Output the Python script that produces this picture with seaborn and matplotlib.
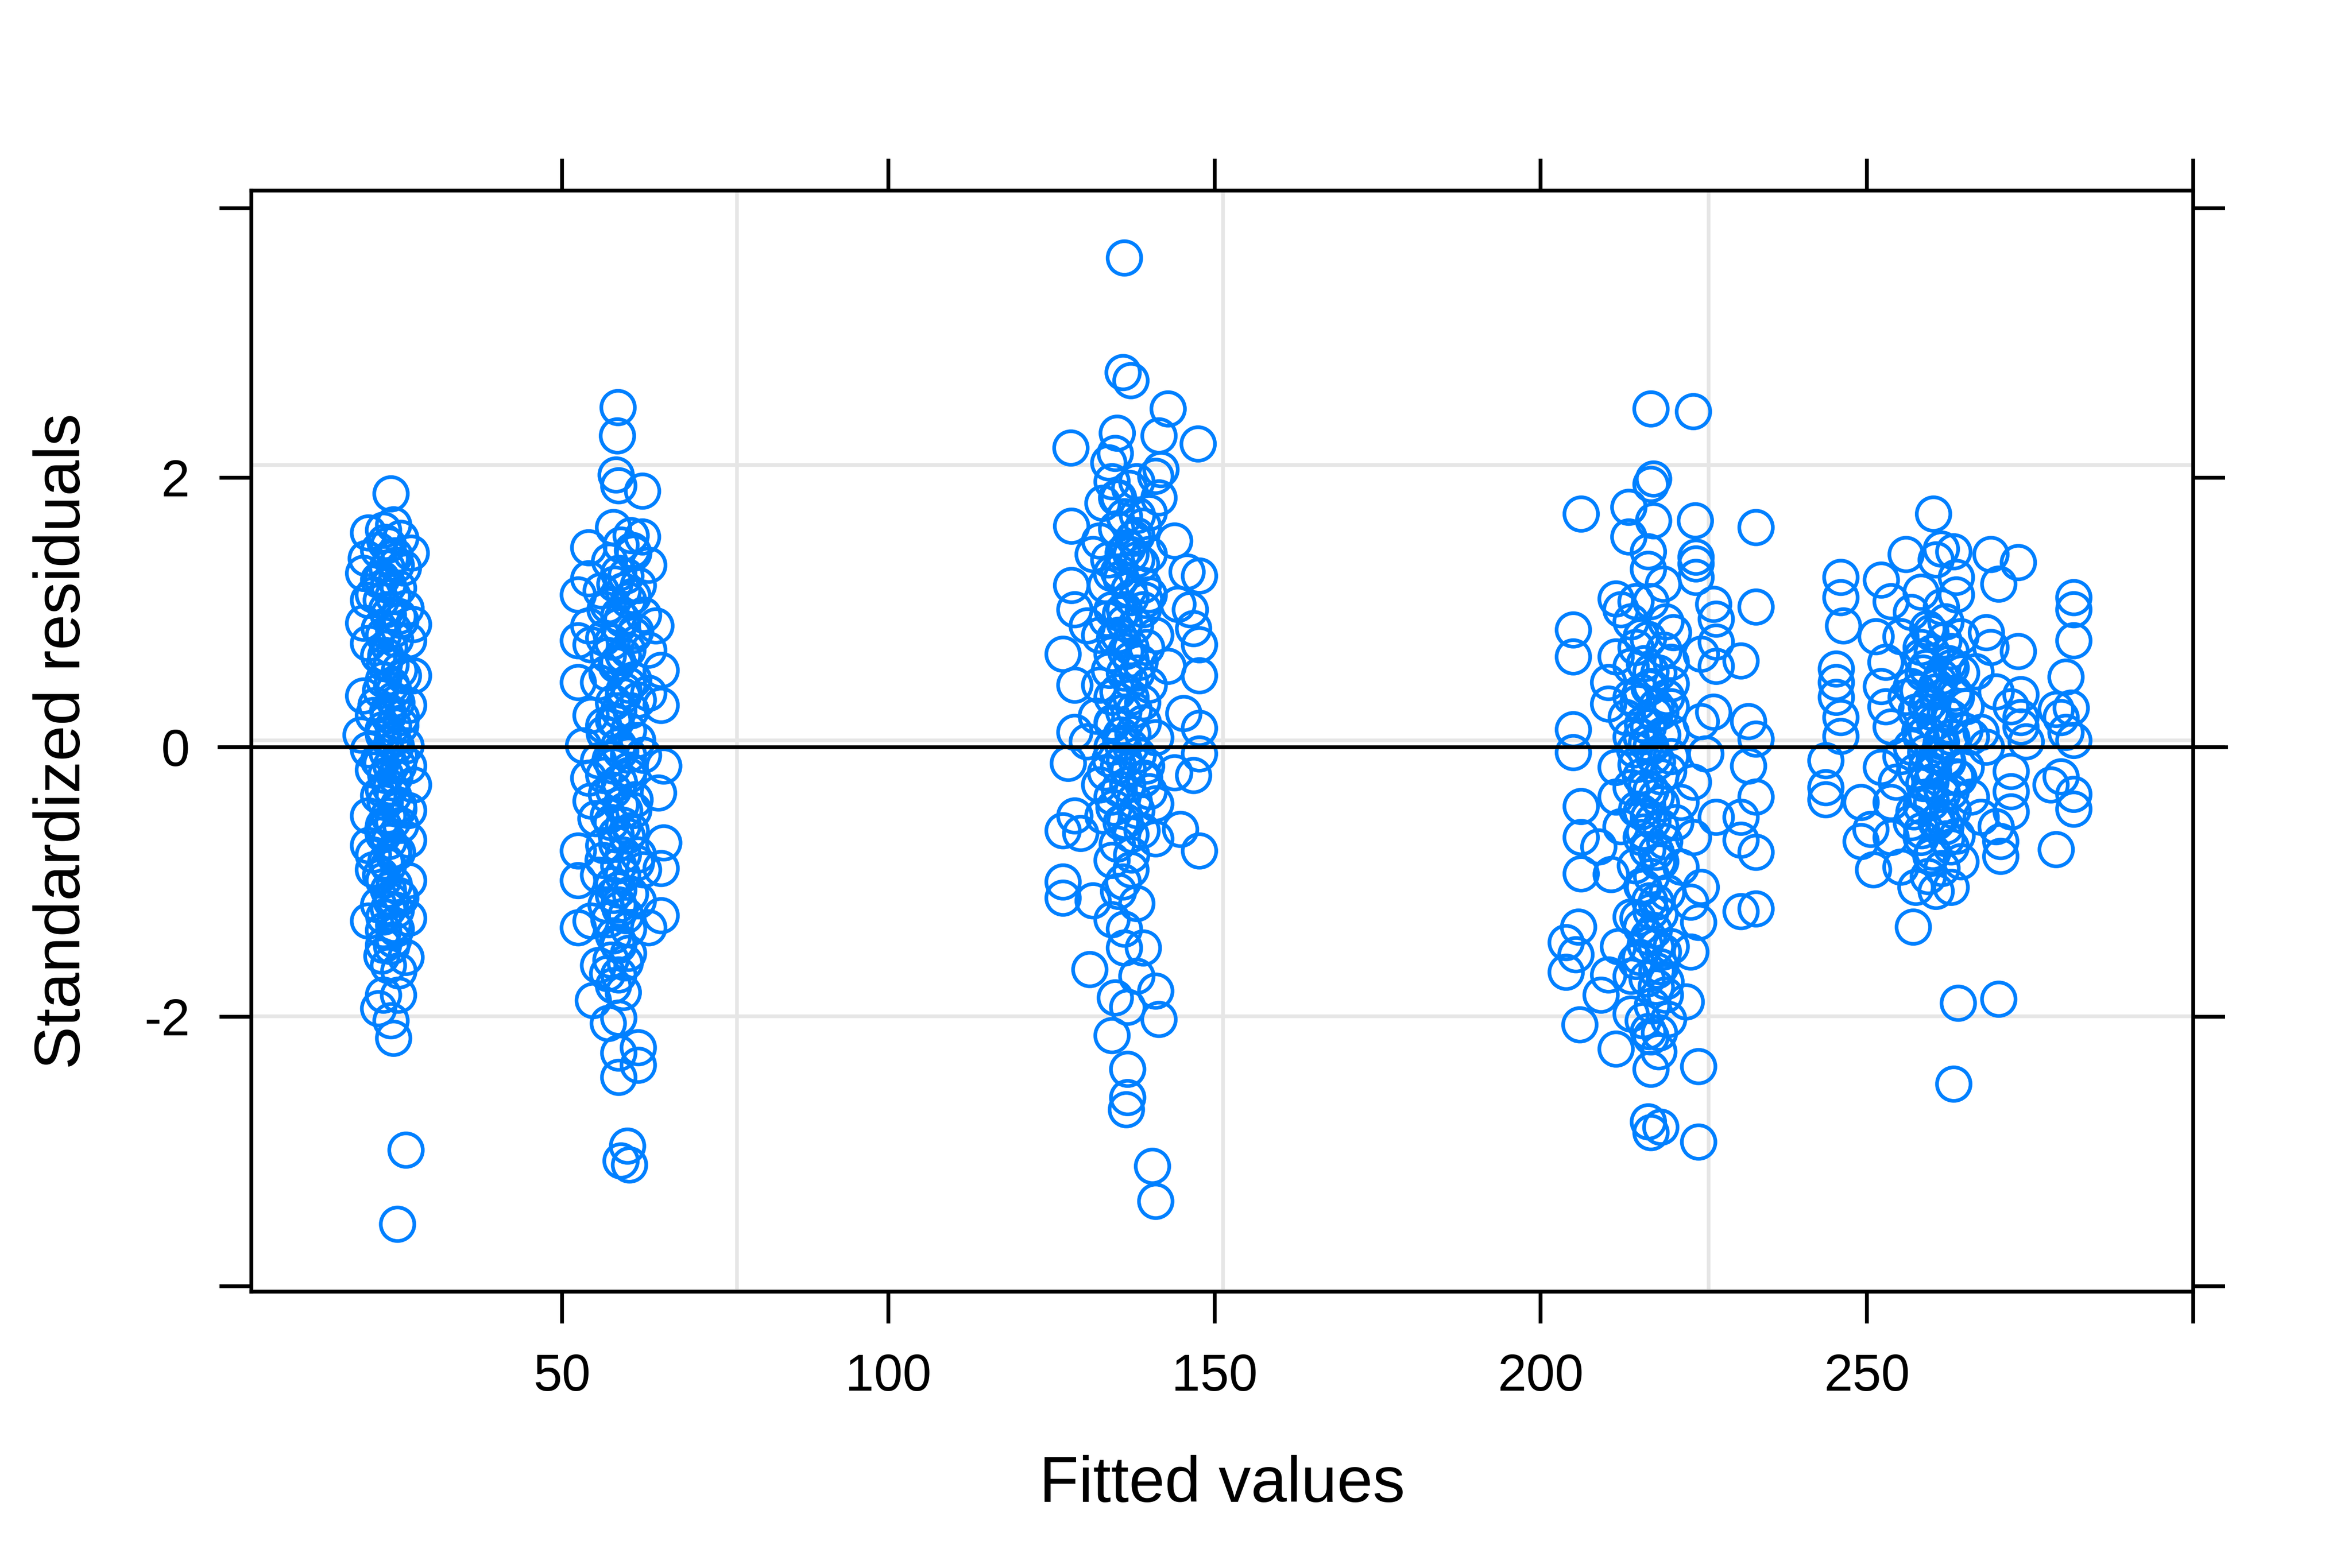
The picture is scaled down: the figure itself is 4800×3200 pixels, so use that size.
import numpy as np
import pandas as pd
import matplotlib
matplotlib.use("Agg")
import matplotlib.pyplot as plt
import seaborn as sns

# Fitted values / standardized residuals, one group per fitted cluster
fitted_g1 = [23.8, 22.65, 24.2, 20.35, 25.3, 23.4, 26.9, 20.0, 25.7, 19.6, 21.9, 24.95, 20.35, 26.1,
             19.6, 27.25, 22.65, 20.35, 26.5, 21.9, 25.7, 27.25, 19.6, 24.2, 26.5, 21.1, 19.2, 24.2,
             20.35, 26.1, 21.9, 26.5, 21.1, 27.25, 22.65, 24.95, 20.35, 26.5, 22.65, 20.35, 26.5, 24.2,
             21.1, 26.5, 23.4, 21.9, 20.35, 26.5, 24.2, 22.65, 26.1, 23.4, 22.65, 24.95, 21.9, 23.8,
             24.2, 26.1, 24.8,
             23.4, 24.2, 23.0, 23.8, 22.65, 24.2, 23.4, 22.65, 24.6, 23.8, 23.0, 24.2, 23.4, 22.65,
             24.2, 23.4, 22.65, 23.8, 24.6, 22.65, 24.2, 23.4, 22.3, 24.6, 21.9, 23.8, 21.1, 25.3,
             21.5, 25.3, 24.95, 21.9, 25.3, 21.1, 24.95]
resid_g1 = [1.88, 1.61, 1.65, 1.59, 1.55, 1.50, 1.44, 1.40, 1.33, 1.29, 1.24, 1.18, 1.09, 1.03,
            0.92, 0.91, 0.83, 0.77, 0.79, 0.68, 0.53, 0.53, 0.38, 0.42, 0.31, 0.235, 0.09, 0.16,
            -0.02, 0.01, -0.10, -0.14, -0.17, -0.28, -0.32, -0.43, -0.51, -0.47, -0.58, -0.73, -0.69, -0.80,
            -0.91, -0.99, -1.06, -1.17, -1.29, -1.27, -1.32, -1.47, -1.56, -1.62, -1.84, -1.84, -1.94, -2.03,
            -2.16, -2.99, -3.54,
            0.98, 0.87, 0.68, 0.61, 0.50, 0.35, 0.235, 0.09, 0.01, -0.14, -0.21, -0.36, -0.51, -0.65,
            -0.77, -0.88, -0.99, -1.14, -1.21, -1.36, -1.43, 1.20, 1.09, 1.35, 1.46, 1.40, 1.13, 0.94,
            0.31, 0.16, -0.14, -0.36, -0.58, -0.80, -1.10]
# overlapping points inside the solid-looking core of the first column
fitted_g1_core = [22.4, 24.1, 23.1, 25.0, 22.0, 24.5, 23.6, 22.8, 25.1, 23.9, 22.2, 24.7, 23.3, 25.4,
                  22.6, 24.0, 23.2, 25.2, 22.3, 24.4, 23.7, 22.9, 25.0, 24.1, 22.5, 23.5, 24.8, 23.0,
                  22.2, 24.3, 25.3, 23.4, 22.7, 24.6, 23.9, 22.4, 25.0, 23.2, 24.4, 22.9]
resid_g1_core = [1.25, 1.12, 1.02, 0.97, 0.88, 0.80, 0.74, 0.62, 0.57, 0.46, 0.42, 0.33, 0.27, 0.22,
                 0.13, 0.05, -0.04, -0.07, -0.12, -0.22, -0.30, -0.41, -0.46, -0.55, -0.62, -0.70, -0.78, -0.85,
                 -0.95, -1.02, -1.12, -1.20, -1.26, -1.35, -1.48, -1.55, -1.66, 1.33, 1.42, 1.52]

fitted_g2 = [58.6, 58.5, 58.3, 58.7, 62.35, 57.9, 60.6, 62.35, 54.1, 59.05, 61.0, 63.3, 54.1, 58.7,
             61.7, 56.0, 52.5, 60.2, 57.1, 62.5, 54.1, 58.7, 64.4, 52.5, 56.4, 61.0, 63.3, 54.45,
             59.4, 65.2, 52.5, 55.6, 60.2, 63.3, 65.2, 54.45, 58.7, 61.7, 56.4, 60.2, 53.3, 58.7,
             55.6, 62.5, 65.6, 54.1, 60.2, 64.8, 57.9, 54.45, 61.0, 55.2, 59.4, 65.6, 52.5, 56.4,
             61.7, 52.5, 55.6, 58.7, 62.5, 65.2, 58.7, 61.7, 54.45, 65.2, 52.5, 63.3, 57.9, 60.2,
             55.6, 58.7, 57.9, 54.8, 59.4, 58.7, 57.1, 61.7, 58.7, 61.7, 58.7, 60.05, 59.05, 60.35,
             58.7, 58.3, 59.4, 57.9, 59.05, 58.3, 59.4, 57.9, 58.7, 57.1, 60.2, 57.9, 59.4, 57.1,
             56.4, 60.6, 56.75, 59.8, 58.7, 57.5]
resid_g2 = [2.52, 2.31, 2.02, 1.94, 1.90, 1.63, 1.57, 1.56, 1.48, 1.50, 1.44, 1.35, 1.25, 1.29,
            1.20, 1.16, 1.13, 1.09, 1.05, 0.98, 0.90, 0.90, 0.90, 0.79, 0.81, 0.83, 0.72, 0.76,
            0.68, 0.57, 0.48, 0.48, 0.46, 0.40, 0.31, 0.235, 0.27, 0.35, 0.16, 0.124, 0.01, 0.01,
            -0.10, -0.06, -0.14, -0.23, -0.21, -0.34, -0.32, -0.40, -0.47, -0.53, -0.58, -0.71, -0.77, -0.73,
            -0.80, -0.99, -0.95, -0.88, -0.91, -0.90, -1.06, -1.14, -1.29, -1.25, -1.34, -1.34, -1.40, -1.53,
            -1.62, -1.69, -1.77, -1.88, -1.82, -2.01, -2.05, -2.23, -2.27, -2.36, -2.45, -2.96, -3.07, -3.10,
            0.98, 0.61, 0.38, -0.14, -0.43, -0.65, -0.80, -1.10, -1.17, -0.51, -0.06, 0.20, 1.16, 0.68,
            -0.21, -0.62, -1.17, -1.25, -1.47, -1.58]
fitted_g2_core = [57.3, 59.8, 58.1, 60.9, 56.6, 59.2, 61.3, 57.7, 60.1, 58.6, 56.9, 61.0, 59.5, 57.9,
                  60.6, 58.3, 56.5, 61.6, 59.0, 57.4, 60.3, 58.8, 56.8, 61.2, 59.6, 57.6, 60.0, 58.4,
                  56.3, 61.4, 59.3, 57.8, 60.5, 58.9, 57.2, 60.2, 58.5, 59.7, 57.0, 60.8]
resid_g2_core = [1.38, 1.27, 1.21, 1.12, 1.02, 0.95, 0.86, 0.78, 0.72, 0.63, 0.55, 0.50, 0.42, 0.33,
                 0.27, 0.19, 0.10, 0.05, -0.03, -0.09, -0.17, -0.26, -0.35, -0.39, -0.47, -0.56, -0.66, -0.72,
                 -0.84, -0.86, -0.95, -1.02, -1.09, -1.20, -1.28, -1.35, -1.45, -1.60, -1.68, 1.46]

fitted_g3 = [136.2, 136.0, 137.2, 142.9, 135.1, 141.5, 147.5, 128.0, 134.8, 133.8, 141.8, 141.0, 134.3, 138.1,
             135.3, 141.5, 132.9, 140.0, 128.1, 139.1, 132.4, 143.9, 131.4, 137.2, 135.3, 145.8, 147.7, 128.1,
             133.3, 140.0, 128.6, 144.4, 146.3, 130.5, 136.2, 146.8, 141.0, 147.7, 126.8, 134.3, 142.9, 147.7,
             128.6, 132.4, 137.2, 140.0, 145.3, 128.6, 134.3, 147.7, 141.0, 130.5, 127.6, 136.2, 147.7, 143.9,
             146.8, 132.4, 139.1, 134.3, 141.0, 128.6, 144.8, 126.8, 129.5, 137.2, 141.0, 147.7, 134.3, 137.2,
             126.8, 126.8, 131.4, 135.3, 138.1, 134.3, 136.2, 136.2, 139.1, 130.9, 138.1, 134.8, 141.0, 136.7,
             141.5, 134.3, 136.7, 136.7, 136.5, 140.5, 141.0,
             136.2, 136.7, 135.7, 137.2, 136.2, 135.3, 137.2, 136.2, 137.7, 135.7, 137.2, 135.3, 136.7, 138.1,
             135.7, 137.2, 139.1, 134.3, 138.1, 134.3, 139.1, 134.3, 139.6, 138.1, 133.8, 132.4, 139.1, 133.3,
             140.0, 132.9, 138.1, 140.0, 131.9, 139.6]
resid_g3 = [3.63, 2.78, 2.72, 2.51, 2.33, 2.31, 2.25, 2.22, 2.18, 2.11, 2.06, 2.01, 1.97, 1.97,
            1.85, 1.85, 1.81, 1.74, 1.64, 1.64, 1.53, 1.53, 1.43, 1.43, 1.30, 1.30, 1.27, 1.20,
            1.20, 1.13, 1.02, 1.06, 1.02, 0.90, 0.92, 0.88, 0.83, 0.76, 0.69, 0.69, 0.60, 0.53,
            0.46, 0.46, 0.37, 0.46, 0.25, 0.11, 0.18, 0.14, 0.07, 0.04, -0.12, -0.10, -0.05, -0.19,
            -0.21, -0.28, -0.24, -0.37, -0.42, -0.51, -0.61, -0.62, -0.64, -0.65, -0.68, -0.77, -0.84, -0.91,
            -1.00, -1.12, -1.14, -1.07, -1.16, -1.28, -1.35, -1.49, -1.49, -1.65, -1.70, -1.86, -1.81, -1.93,
            -2.02, -2.14, -2.39, -2.60, -2.69, -3.11, -3.37,
            1.71, 1.48, 1.25, 1.11, 1.02, 0.83, 0.74, 0.55, 0.275, 0.09, 0.0, -0.14, -0.28, -0.47,
            -0.56, 0.65, 1.02, 1.02, 0.55, 0.37, 0.18, 0.0, -0.14, 1.39, 1.39, 0.83, 1.20, -0.19,
            -0.33, -0.51, 1.57, 1.43, 0.23, 0.74]
fitted_g3_core = [135.0, 137.6, 136.0, 138.8, 134.2, 136.9, 139.4, 135.6, 137.9, 134.7, 136.4, 138.6,
                  133.9, 137.1, 135.2, 139.0, 136.1, 134.4, 137.5, 135.8, 138.3, 134.0, 136.8, 139.3,
                  135.4, 137.7, 134.6, 136.3, 138.9, 135.1, 137.3, 136.0, 135.0, 137.0, 138.2, 133.5]
resid_g3_core = [1.62, 1.55, 1.44, 1.36, 1.29, 1.17, 1.09, 0.99, 0.90, 0.81, 0.71, 0.63,
                 0.57, 0.49, 0.41, 0.33, 0.26, 0.17, 0.10, 0.03, -0.06, -0.09, -0.17, -0.23,
                 -0.31, -0.40, -0.45, -0.55, -0.62, -0.72, -0.80, -1.00, 1.85, 1.92, 1.72, 0.95]

fitted_g4 = [216.9, 223.4, 217.3, 216.9, 206.2, 213.5, 217.3, 223.7, 233.0, 213.5, 216.5, 223.8, 223.8, 216.5,
             223.8, 218.8, 211.55, 214.6, 226.5, 233.0, 212.3, 226.9, 213.85, 219.2, 205.0, 220.35, 215.4, 226.9,
             205.0, 211.55, 224.6, 230.7, 213.85, 216.9, 226.9, 210.4, 220.0, 210.4, 215.4, 213.1, 218.4, 226.5,
             224.6, 231.85, 213.85, 220.0, 233.0, 205.0, 205.0, 216.9, 225.3, 211.55, 214.6, 223.4, 231.85, 218.4,
             206.2, 211.55, 221.5, 233.0, 215.4, 226.9, 230.7, 206.2, 212.3, 218.4, 223.4, 230.7, 233.0, 208.9,
             217.7, 206.2, 210.8, 221.5, 215.8, 224.6, 223.0, 230.7, 233.0, 205.8, 203.9, 213.85, 216.9, 224.2,
             205.4, 211.9, 217.7, 223.0, 203.9, 210.4, 213.85, 219.2, 209.25, 222.3, 213.85, 219.6, 206.0, 216.5,
             216.9, 211.55, 218.1, 216.9, 224.2, 216.5, 218.4, 216.9, 224.2,
             216.9, 217.7, 216.5, 217.3, 216.1, 217.7, 216.5, 215.4, 218.4, 216.5, 214.6, 217.7, 220.0, 214.6,
             220.0, 213.85, 220.7, 215.4, 217.7, 220.0, 216.9, 220.0, 213.85, 218.4, 215.4]
resid_g4 = [2.51, 2.49, 1.99, 1.95, 1.73, 1.78, 1.68, 1.68, 1.63, 1.56, 1.45, 1.41, 1.36, 1.32,
            1.26, 1.21, 1.10, 1.08, 1.06, 1.04, 1.02, 0.95, 0.93, 0.93, 0.87, 0.85, 0.82, 0.78,
            0.67, 0.67, 0.69, 0.64, 0.60, 0.56, 0.60, 0.48, 0.47, 0.32, 0.41, 0.22, 0.26, 0.26,
            0.19, 0.19, 0.075, 0.11, 0.06, 0.13, -0.04, 0.0, -0.05, -0.15, -0.13, -0.26, -0.14, -0.22,
            -0.44, -0.37, -0.41, -0.37, -0.48, -0.52, -0.52, -0.67, -0.59, -0.59, -0.67, -0.69, -0.78, -0.74,
            -0.78, -0.94, -0.945, -0.89, -1.04, -1.04, -1.15, -1.22, -1.20, -1.335, -1.45, -1.26, -1.22, -1.30,
            -1.54, -1.48, -1.48, -1.52, -1.67, -1.69, -1.70, -1.74, -1.84, -1.89, -1.98, -2.02, -2.06, -2.11,
            -2.15, -2.24, -2.26, -2.39, -2.37, -2.78, -2.82, -2.86, -2.93,
            0.45, 0.30, 0.15, -0.07, -0.30, -0.37, -0.52, -0.67, -0.85, -1.41, -1.59, -1.78, 0.63, 0.74,
            -0.07, -0.30, -0.56, 0.075, -1.15, -1.48, 1.08, 0.30, 0.37, -1.63, -1.335]
fitted_g4_core = [215.9, 218.1, 216.6, 219.3, 214.9, 217.5, 215.6, 218.7, 216.2, 214.4, 217.9, 219.6,
                  215.3, 216.9, 218.5, 214.7, 217.2, 215.8, 219.0, 216.4, 218.0, 214.5, 217.0, 215.5,
                  219.4, 216.7, 218.3, 214.9, 217.4, 216.0, 218.8, 215.2, 217.8, 216.3, 219.1, 217.1,
                  215.7, 218.2, 216.5, 218.9]
resid_g4_core = [0.62, 0.55, 0.44, 0.37, 0.33, 0.24, 0.17, 0.09, 0.03, -0.02, -0.11, -0.18,
                 -0.22, -0.32, -0.42, -0.46, -0.55, -0.63, -0.70, -0.76, -0.85, -0.88, -0.96, -1.03,
                 -1.08, -1.14, -1.24, -1.27, -1.36, -1.47, -1.52, -1.56, -1.66, -1.72, -1.84, -1.92,
                 -2.03, -2.12, 0.80, 0.72]

fitted_g5 = [260.2, 261.4, 260.6, 263.3, 269.0, 273.2, 256.0, 252.2, 263.7, 270.2, 246.0, 246.0, 253.7, 258.3,
             263.7, 261.4, 256.8, 262.1, 268.3, 251.4, 255.2, 264.4, 259.8, 246.4, 273.2, 269.0, 252.9, 258.3,
             262.9, 245.3, 245.3, 280.5, 266.7, 252.2, 256.8, 260.6, 245.3, 269.8, 273.6, 281.7, 281.7, 281.7,
             252.9, 259.1, 265.2, 272.1, 279.0, 281.3, 246.0, 262.9, 273.6, 279.75, 253.7, 259.1, 246.0, 267.5,
             273.6, 280.5, 256.8, 261.4, 266.0, 274.4, 281.7, 243.7, 252.2, 272.1, 262.1, 268.3, 257.5, 279.75,
             243.7, 243.7, 259.8, 263.7, 272.1, 278.2, 281.7, 281.7, 249.1, 253.7, 259.1, 262.9, 267.5, 272.1,
             250.6, 256.8, 261.4, 269.8, 249.1, 253.7, 258.3, 262.9, 270.5, 270.5, 279.0, 251.0, 255.2, 259.8,
             264.4, 257.5, 262.9, 260.6, 257.1, 264.0, 270.2, 263.3,
             260.6, 259.1, 261.4, 259.8, 258.3, 260.6, 259.1, 261.4, 258.3, 260.6, 256.0, 263.7, 262.9, 255.2,
             265.2, 254.5, 266.0, 258.3, 262.9, 257.5, 262.1]
resid_g5 = [1.73, 1.47, 1.39, 1.45, 1.43, 1.37, 1.43, 1.24, 1.26, 1.21, 1.26, 1.11, 1.08, 1.15,
            1.13, 1.04, 1.00, 0.93, 0.85, 0.82, 0.82, 0.82, 0.85, 0.90, 0.71, 0.74, 0.63, 0.67,
            0.59, 0.58, 0.48, 0.52, 0.56, 0.45, 0.45, 0.41, 0.37, 0.41, 0.39, 1.11, 1.02, 0.79,
            0.30, 0.30, 0.30, 0.30, 0.28, 0.29, 0.22, 0.22, 0.22, 0.22, 0.15, 0.11, 0.08, 0.11,
            0.15, 0.11, 0.0, 0.04, 0.075, 0.04, 0.05, -0.10, -0.15, -0.18, -0.09, 0.0, -0.18, -0.22,
            -0.30, -0.39, -0.26, -0.22, -0.33, -0.28, -0.35, -0.46, -0.41, -0.41, -0.37, -0.33, -0.52, -0.48,
            -0.61, -0.56, -0.52, -0.59, -0.70, -0.67, -0.67, -0.74, -0.70, -0.81, -0.76, -0.91, -0.89, -0.81,
            -0.85, -1.04, -1.04, -1.07, -1.335, -1.90, -1.87, -2.50,
            0.45, 0.59, 0.52, 0.26, 0.075, -0.07, -0.15, -0.30, -0.44, -0.56, 0.37, 0.37, 0.075, -0.07,
            -0.15, -0.26, -0.37, 0.74, 0.71, 0.26, -0.59]
fitted_g5_core = [259.3, 261.8, 260.0, 262.6, 258.6, 261.1, 263.4, 259.6, 262.0, 260.4, 258.1, 263.0,
                  261.3, 259.0, 262.4, 260.2, 264.1, 258.7, 261.6, 259.9, 263.2, 260.8, 258.4, 262.2,
                  260.1, 261.5, 259.4, 264.5, 257.8, 265.0, 263.8, 257.2]
resid_g5_core = [0.88, 0.79, 0.70, 0.62, 0.55, 0.48, 0.40, 0.33, 0.25, 0.18, 0.12, 0.07,
                 0.01, -0.04, -0.11, -0.18, -0.23, -0.27, -0.35, -0.41, -0.47, -0.55, -0.62, -0.68,
                 -0.78, -0.90, -0.96, 0.55, 0.42, 0.12, -0.66, -0.48]

x_ticks = [50, 100, 150, 200, 250, 300]
x_tick_labels = ["50", "100", "150", "200", "250", ""]
y_ticks = [-4, -2, 0, 2, 4]
y_tick_labels = ["", "-2", "0", "2", ""]
grid_x = [76.8, 151.3, 225.7]
grid_y = [2.093, 0.05, -1.998]

df = pd.DataFrame({
    "fitted": (fitted_g1 + fitted_g1_core + fitted_g2 + fitted_g2_core + fitted_g3 + fitted_g3_core
               + fitted_g4 + fitted_g4_core + fitted_g5 + fitted_g5_core),
    "resid": (resid_g1 + resid_g1_core + resid_g2 + resid_g2_core + resid_g3 + resid_g3_core
              + resid_g4 + resid_g4_core + resid_g5 + resid_g5_core),
})

plt.rcParams["font.family"] = ["Liberation Sans", "DejaVu Sans"]

fig = plt.figure(figsize=(16, 32 / 3), dpi=300)
ax = fig.add_axes([0.10688, 0.17625, 0.82562, 0.70219])

# light reference grid (lattice panel.grid look)
for gx in grid_x:
    ax.axvline(gx, color="#e6e6e6", lw=1.8, zorder=0)
for gy in grid_y:
    ax.axhline(gy, color="#e6e6e6", lw=1.8, zorder=0)

sns.scatterplot(data=df, x="fitted", y="resid", ax=ax, marker="o", s=270,
                color="#0080ff", facecolors="none", edgecolor="#0080ff",
                linewidth=1.8, zorder=2, legend=False)

# zero line, runs out across the tick marks like the original
ax.axhline(0, xmin=-0.0164, xmax=1.0169, color="black", lw=1.85, zorder=3, clip_on=False)

ax.set_xlim(2.4, 300)
ax.set_ylim(-4.04, 4.13)
ax.set_xticks(x_ticks)
ax.set_xticklabels(x_tick_labels)
ax.set_yticks(y_ticks)
ax.set_yticklabels(y_tick_labels)

ax.tick_params(axis="both", which="major", direction="out", length=15.6, width=1.85,
               labelsize=25.3, pad=14.5, top=True, right=True, labeltop=False, labelright=False)

for sp in ax.spines.values():
    sp.set_linewidth(1.85)
    sp.set_color("black")

ax.set_xlabel("Fitted values", fontsize=31.6, labelpad=26)
ax.set_ylabel("Standardized residuals", fontsize=31.6, labelpad=25)

fig.savefig("out.png", dpi=300, facecolor="white")
plt.close(fig)
